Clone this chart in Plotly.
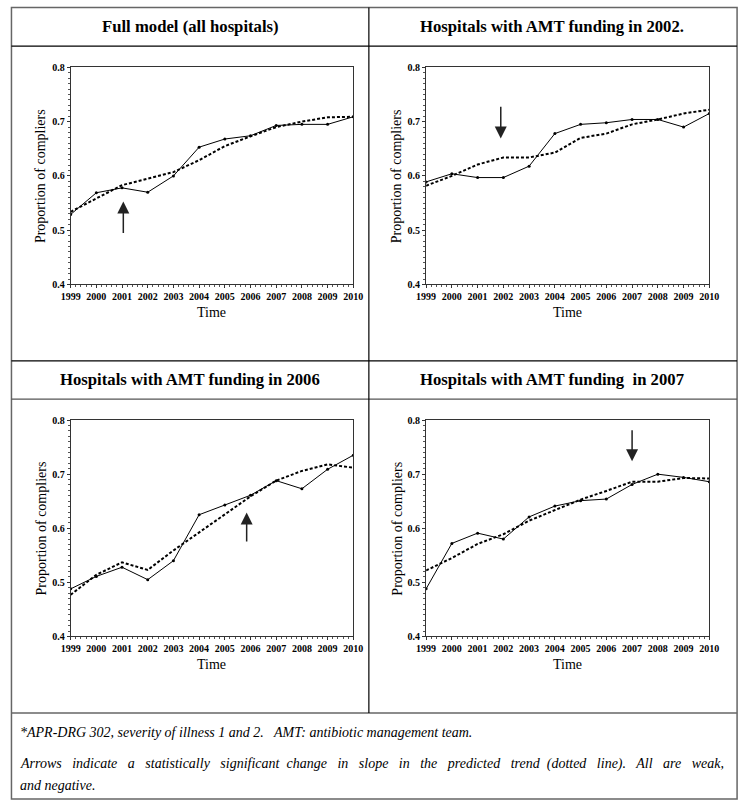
import plotly.graph_objects as go

# ---------------- data ----------------
years = [1999, 2000, 2001, 2002, 2003, 2004, 2005, 2006, 2007, 2008, 2009, 2010]
x_tick_labels = ["1999", "2000", "2001", "2002", "2003", "2004", "2005", "2006", "2007", "2008", "2009", "2010"]
y_tick_vals = [0.4, 0.5, 0.6, 0.7, 0.8]
y_tick_labels = ["0.4", "0.5", "0.6", "0.7", "0.8"]

titles = ["Full model (all hospitals)",
          "Hospitals with AMT funding in 2002.",
          "Hospitals with AMT funding in 2006",
          "Hospitals with AMT funding&nbsp; in 2007"]

obs_full = [0.529, 0.569, 0.578, 0.570, 0.600, 0.653, 0.668, 0.674, 0.693, 0.695, 0.695, 0.709]
pred_full = [0.534, 0.559, 0.583, 0.595, 0.607, 0.629, 0.655, 0.673, 0.690, 0.700, 0.708, 0.709]

obs_2002 = [0.589, 0.604, 0.597, 0.597, 0.618, 0.678, 0.695, 0.698, 0.704, 0.704, 0.690, 0.715]
pred_2002 = [0.582, 0.600, 0.621, 0.634, 0.634, 0.643, 0.670, 0.678, 0.695, 0.704, 0.715, 0.722]

obs_2006 = [0.488, 0.511, 0.528, 0.505, 0.540, 0.625, 0.643, 0.661, 0.688, 0.673, 0.709, 0.735]
pred_2006 = [0.477, 0.514, 0.537, 0.523, 0.559, 0.592, 0.626, 0.659, 0.688, 0.706, 0.718, 0.712]

obs_2007 = [0.488, 0.572, 0.591, 0.580, 0.621, 0.641, 0.651, 0.654, 0.681, 0.700, 0.694, 0.686]
pred_2007 = [0.522, 0.545, 0.571, 0.589, 0.614, 0.633, 0.653, 0.669, 0.686, 0.686, 0.693, 0.692]

observed = [obs_full, obs_2002, obs_2006, obs_2007]
predicted = [pred_full, pred_2002, pred_2006, pred_2007]

arrow_year = [2001.05, 2001.9, 2005.85, 2007.0]
arrow_tail = [0.492, 0.730, 0.573, 0.784]
arrow_tip = [0.553, 0.669, 0.629, 0.724]

footer_line1 = "*APR-DRG 302, severity of illness 1 and 2.&nbsp;&nbsp; AMT: antibiotic management team."
footer_line2_words = ["Arrows", "indicate", "a", "statistically", "significant", "change", "in", "slope", "in",
                      "the", "predicted", "trend", "(dotted", "line).", "All", "are", "weak,"]
footer_line3 = "and negative."

# ---------------- layout geometry (pixels) ----------------
W, H = 750, 807


def px(x):
    return x / W


def py(y):
    return 1 - y / H


plot_boxes = [  # (x0, x1, ytop, ybottom)
    (62.3, 352.7, 62.3, 282.7),
    (427.5, 718.5, 62.3, 282.7),
    (62.3, 352.7, 420.3, 640.0),
    (427.5, 718.5, 420.3, 640.0),
]
title_pos = [(185, 21), (557, 21), (185, 379), (557, 379)]
ytitle_x = [32, 398, 32, 398]

SERIF = "Liberation Serif, Times New Roman, serif"

fig = go.Figure()
annotations = []

for i in range(4):
    ax_id = "" if i == 0 else str(i + 1)
    xref = "x" + ax_id
    yref = "y" + ax_id
    x0, x1, yt, yb = plot_boxes[i]

    fig.add_trace(go.Scatter(
        x=years, y=predicted[i], mode="lines",
        line=dict(color="black", width=2, dash="3px,2px"),
        xaxis=xref, yaxis=yref, showlegend=False, hoverinfo="skip"))
    fig.add_trace(go.Scatter(
        x=years, y=observed[i], mode="lines+markers",
        line=dict(color="black", width=1),
        marker=dict(color="black", size=3),
        xaxis=xref, yaxis=yref, showlegend=False))

    axis_common = dict(
        showline=True, linecolor="#333", linewidth=1, mirror=True,
        showgrid=False, zeroline=False,
        ticks="outside", ticklen=3, tickcolor="#333",
        tickfont=dict(family=SERIF, size=10, color="black", weight="bold"),
    )
    fig.update_layout(**{
        "xaxis" + ax_id: dict(
            axis_common, domain=[px(x0), px(x1)], range=[1999, 2010],
            tickvals=years, ticktext=x_tick_labels,
            minor=dict(ticks="outside", ticklen=2, dtick=0.2, tickcolor="#555"),
            anchor=yref),
        "yaxis" + ax_id: dict(
            axis_common, domain=[py(yb), py(yt)], range=[0.4, 0.8],
            tickvals=y_tick_vals, ticktext=y_tick_labels,
            minor=dict(ticks="outside", ticklen=2, dtick=0.01, tickcolor="#555"),
            anchor=xref),
    })

    # arrow
    annotations.append(dict(
        x=arrow_year[i], y=arrow_tip[i], ax=arrow_year[i], ay=arrow_tail[i],
        xref=xref, yref=yref, axref=xref, ayref=yref,
        showarrow=True, arrowhead=2, arrowsize=1.6, arrowwidth=1.5,
        arrowcolor="#222", text=""))

    # panel title
    tx, ty = title_pos[i]
    annotations.append(dict(
        x=px(tx), y=py(ty), xref="paper", yref="paper", showarrow=False,
        text="<b>" + titles[i] + "</b>", xanchor="center", yanchor="middle",
        font=dict(family=SERIF, size=16.7, color="black")))
    # x title
    annotations.append(dict(
        x=px((x0 + x1) / 2), y=py(yb + 28), xref="paper", yref="paper", showarrow=False,
        text="Time", xanchor="center", yanchor="middle",
        font=dict(family=SERIF, size=14, color="black")))
    # y title
    annotations.append(dict(
        x=px(ytitle_x[i]), y=py((yt + yb) / 2), xref="paper", yref="paper", showarrow=False,
        text="Proportion of compliers", textangle=-90, xanchor="center", yanchor="middle",
        font=dict(family=SERIF, size=14, color="black")))

# footer (second line justified to full width like the original text block)
FOOT_SIZE = 14
gap_nbsp = [2, 2, 2, 2, 1, 2, 2, 2, 2, 2, 2, 1, 2, 2, 2, 2]
line2 = footer_line2_words[0]
for k, w in enumerate(footer_line2_words[1:]):
    line2 += "&nbsp;" * gap_nbsp[k] + " " + w
footer_lines = [footer_line1, line2, footer_line3]
footer_y = [737, 769, 791]
for line, fy in zip(footer_lines, footer_y):
    annotations.append(dict(
        x=px(8), y=py(fy), xref="paper", yref="paper", showarrow=False,
        text="<i>" + line + "</i>", xanchor="left", yanchor="middle",
        font=dict(family=SERIF, size=FOOT_SIZE, color="black")))

# table borders
shapes = []


def hline(y, x0, x1, color, w=1.2):
    shapes.append(dict(type="line", xref="paper", yref="paper",
                       x0=px(x0), x1=px(x1), y0=py(y), y1=py(y),
                       line=dict(color=color, width=w)))


def vline(x, y0, y1, color, w=1.2):
    shapes.append(dict(type="line", xref="paper", yref="paper",
                       x0=px(x), x1=px(x), y0=py(y0), y1=py(y1),
                       line=dict(color=color, width=w)))


shapes.append(dict(type="rect", xref="paper", yref="paper",
                   x0=px(1.5), x1=px(747), y0=py(805), y1=py(1.5),
                   line=dict(color="#666", width=1.5)))
hline(40.7, 1.5, 747, "black")
hline(360.3, 1.5, 747, "black")
hline(399, 1.5, 747, "#555")
hline(717.7, 1.5, 747, "#666", 1.5)
vline(368.7, 1.5, 717.7, "black")

fig.update_layout(
    width=W, height=H,
    margin=dict(l=0, r=0, t=0, b=0),
    paper_bgcolor="white", plot_bgcolor="white",
    annotations=annotations, shapes=shapes,
    showlegend=False,
)

fig.write_html("out.html",
               config={"displayModeBar": False},
               post_script="document.body.style.margin='0';document.body.style.overflow='hidden';")
